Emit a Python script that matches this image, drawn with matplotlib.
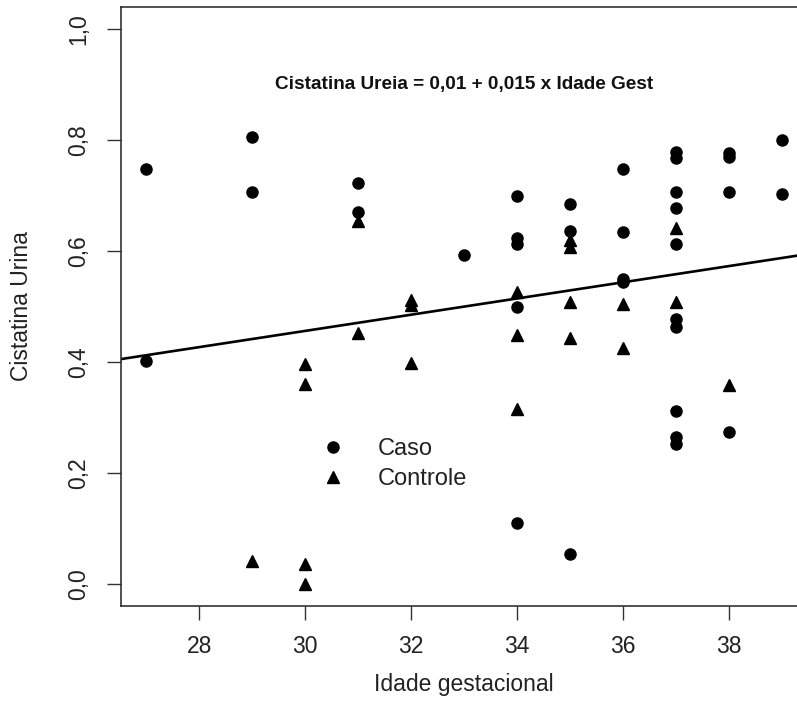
import matplotlib
matplotlib.use("Agg")
import matplotlib.pyplot as plt
from matplotlib.lines import Line2D

plt.rcParams['font.family'] = ['Liberation Sans', 'DejaVu Sans']

# Caso (circulos)
caso_x = [27, 27, 29, 29, 31, 31, 33,
	34, 34, 34, 34, 34,
	35, 35, 35,
	36, 36, 36, 36,
	37, 37, 37, 37, 37, 37, 37, 37, 37, 37,
	38, 38, 38, 38,
	39, 39]
caso_y = [0.748, 0.402, 0.805, 0.707, 0.722, 0.670, 0.592,
	0.700, 0.624, 0.612, 0.500, 0.110,
	0.685, 0.637, 0.053,
	0.748, 0.634, 0.550, 0.544,
	0.779, 0.767, 0.707, 0.678, 0.613, 0.477, 0.463, 0.312, 0.264, 0.252,
	0.776, 0.770, 0.706, 0.273,
	0.800, 0.703]

# Controle (triangulos)
controle_x = [29, 30, 30, 30, 30, 31, 31, 32, 32, 32,
	34, 34, 34, 35, 35, 35, 35, 36, 36, 37, 37, 38]
controle_y = [0.042, 0.397, 0.361, 0.036, 0.000, 0.655, 0.453, 0.512, 0.502, 0.399,
	0.526, 0.448, 0.316, 0.620, 0.608, 0.508, 0.444, 0.504, 0.426, 0.642, 0.508, 0.358]

line_intercept = 0.018
line_slope = 0.0146

xticks = [28, 30, 32, 34, 36, 38]
yticks = [0.0, 0.2, 0.4, 0.6, 0.8, 1.0]
ytick_labels = ["0,0", "0,2", "0,4", "0,6", "0,8", "1,0"]

W, H = 797, 723
fig = plt.figure(figsize=(W / 100, H / 100), dpi=100)
# axes box in pixels: left 121, right 807 (past the edge), top 7, bottom 606
ax = fig.add_axes([121 / W, (H - 606) / H, 686 / W, 599 / H])

ax.plot(caso_x, caso_y, 'o', color='black', markersize=8, linestyle='none')
ax.plot(controle_x, controle_y, '^', color='black', markersize=9, linestyle='none')
ax.axline((0, line_intercept), slope=line_slope, color='black', linewidth=1.9)

ax.set_xlim(26.52, 39.48)
ax.set_ylim(-0.04, 1.04)

ax.set_xticks(xticks)
ax.set_xticklabels([str(t) for t in xticks])
ax.set_yticks(yticks)
ax.set_yticklabels(ytick_labels, rotation=90, va='center')
ax.tick_params(axis='both', labelsize=16.5, length=10, width=1, color='#333333', labelcolor='#222222')
ax.tick_params(axis='x', pad=11)
ax.tick_params(axis='y', pad=12)

for s in ax.spines.values():
	s.set_linewidth(1.1)
	s.set_color('#222222')

ax.set_xlabel("Idade gestacional", fontsize=16.5, color='#222222', va='center')
ax.xaxis.set_label_coords(0.5, (606 - 684) / 599.0)
ax.set_ylabel("Cistatina Urina", fontsize=16.5, color='#222222', va='center')
ax.yaxis.set_label_coords((22 - 121) / 686.0, 0.5)

fig.text(464 / W, 1 - 84 / H, "Cistatina Ureia = 0,01 + 0,015 x Idade Gest",
	fontsize=13.7, fontweight='bold', ha='center', va='center', color='#111111')

handles = [Line2D([], [], marker='o', color='black', linestyle='none', markersize=8),
	Line2D([], [], marker='^', color='black', linestyle='none', markersize=9)]
fig.legend(handles, ["Caso", "Controle"], loc='upper left', bbox_to_anchor=(321.5 / W, 1 - 438 / H),
	frameon=False, fontsize=17, handlelength=1.0, handletextpad=1.4, labelspacing=0.35,
	borderpad=0, borderaxespad=0, labelcolor='#222222')

fig.savefig("out.png", dpi=100)
